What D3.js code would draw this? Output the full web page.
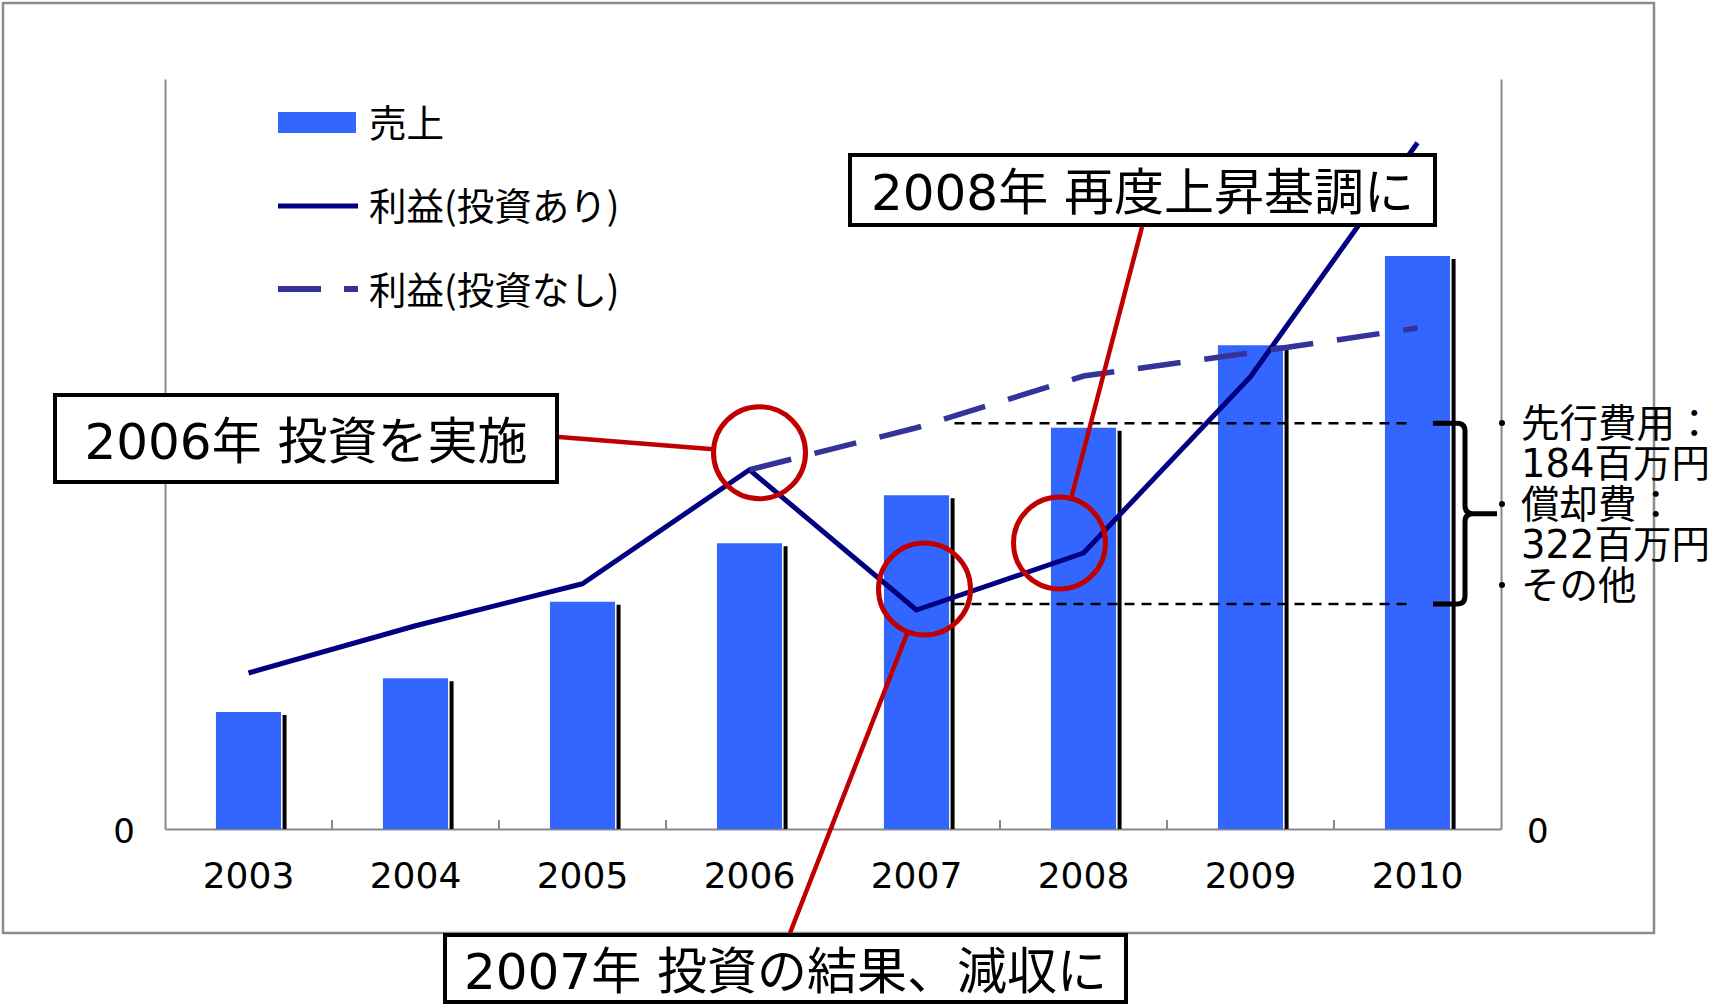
<!DOCTYPE html>
<html>
<head>
<meta charset="utf-8">
<script src="https://cdn.jsdelivr.net/npm/d3@7"></script>
<style>
  body { margin: 0; background: #fff; }
  svg { display: block; }
</style>
</head>
<body>
<svg width="1725" height="1006"></svg>
<script>
// values (no units on the axes, 0..100 scale)
const years = ["2003", "2004", "2005", "2006", "2007", "2008", "2009", "2010"]
const sales = [15.6, 20.1, 30.3, 38.1, 44.5, 53.5, 64.5, 76.4]
const profitWith = [20.8, 27.1, 32.7, 47.9, 29.2, 36.8, 60.3, 91.5]
const profitWithout = [null, null, null, 47.9, 53.5, 60.4, 63.5, 66.8]
const legendLabels = ["売上", "利益(投資あり)", "利益(投資なし)"]
const gapLevels = [54.1, 30.0]
const noteLines = ["先行費用：", "184百万円", "償却費：", "322百万円", "その他"]
const calloutTexts = ["2006年 投資を実施", "2008年 再度上昇基調に", "2007年 投資の結果、減収に"]

const svg = d3.select("svg")
const numFont = "'DejaVu Sans', 'Noto Sans CJK JP', sans-serif"
const jpFont = "'Noto Sans CJK JP', sans-serif"

const plotLeft = 165, plotRight = 1501, plotTop = 79, plotBottom = 829

const x = d3.scaleBand()
    .domain(years)
    .range([plotLeft, plotRight])
    .paddingInner(0.61)
    .paddingOuter(0.305)

const ySales = d3.scaleLinear().domain([0, 100]).range([plotBottom, plotTop])
const yProfit = d3.scaleLinear().domain([0, 100]).range([plotBottom, plotTop])
const cx = yr => x(yr) + x.bandwidth() / 2

// outer frame
svg.append("rect")
    .attr("x", 3).attr("y", 3)
    .attr("width", 1651).attr("height", 930)
    .attr("fill", "none")
    .attr("stroke", "#8c8c8c")
    .attr("stroke-width", 2.5)

// axes
const xAxis = svg.append("g")
    .attr("transform", "translate(0," + plotBottom + ")")
    .call(d3.axisBottom(x).tickSize(0).tickSizeOuter(0))
xAxis.select(".domain").attr("stroke", "#898989").attr("stroke-width", 2)
xAxis.selectAll("text")
    .attr("y", 59).attr("dy", 0)
    .attr("font-family", numFont).attr("font-size", 36).attr("fill", "#000")

// category boundary ticks pointing up
svg.append("g")
    .selectAll("line")
    .data(years.slice(1))
    .enter()
    .append("line")
    .attr("x1", d => x(d) - x.step() * x.paddingInner() / 2)
    .attr("x2", d => x(d) - x.step() * x.paddingInner() / 2)
    .attr("y1", plotBottom)
    .attr("y2", plotBottom - 9)
    .attr("stroke", "#898989")
    .attr("stroke-width", 2)

const yAxisL = svg.append("g")
    .attr("transform", "translate(" + plotLeft + ",0)")
    .call(d3.axisLeft(ySales).tickValues([0]).tickSize(0).tickSizeOuter(0).tickPadding(30))
const yAxisR = svg.append("g")
    .attr("transform", "translate(" + plotRight + ",0)")
    .call(d3.axisRight(yProfit).tickValues([0]).tickSize(0).tickSizeOuter(0).tickPadding(26))
;[yAxisL, yAxisR].forEach(a => {
    a.select(".domain").attr("stroke", "#898989").attr("stroke-width", 2)
    a.selectAll("text").attr("font-family", numFont).attr("font-size", 34).attr("fill", "#000").attr("dy", "0.4em")
})

// bars with a thin black shadow on the right
const bars = svg.append("g")
    .selectAll("g")
    .data(sales)
    .enter()
    .append("g")

bars.append("rect")
    .attr("x", (d, i) => x(years[i]) + x.bandwidth() + 1.5)
    .attr("y", d => ySales(d) + 3)
    .attr("width", 4)
    .attr("height", d => plotBottom - ySales(d) - 3)
    .attr("fill", "#000")

bars.append("rect")
    .attr("x", (d, i) => x(years[i]))
    .attr("y", d => ySales(d))
    .attr("width", x.bandwidth())
    .attr("height", d => plotBottom - ySales(d))
    .attr("fill", "#3366ff")

// profit lines
const line = d3.line()
    .defined(d => d != null)
    .x((d, i) => cx(years[i]))
    .y(d => yProfit(d))

svg.append("path")
    .attr("d", line(profitWith))
    .attr("fill", "none")
    .attr("stroke", "#000080")
    .attr("stroke-width", 5)
    .attr("stroke-linejoin", "round")

svg.append("path")
    .attr("d", line(profitWithout))
    .attr("fill", "none")
    .attr("stroke", "#333399")
    .attr("stroke-width", 5.5)
    .attr("stroke-dasharray", "43,24")

// legend
const legend = svg.append("g")
legend.append("rect")
    .attr("x", 278).attr("y", 112)
    .attr("width", 78).attr("height", 21)
    .attr("fill", "#3366ff")
legend.append("line")
    .attr("x1", 278).attr("x2", 358).attr("y1", 206).attr("y2", 206)
    .attr("stroke", "#000080").attr("stroke-width", 5)
legend.append("line")
    .attr("x1", 278).attr("x2", 358).attr("y1", 289).attr("y2", 289)
    .attr("stroke", "#333399").attr("stroke-width", 6)
    .attr("stroke-dasharray", "43,23")
legend.selectAll("text")
    .data(legendLabels)
    .enter()
    .append("text")
    .attr("x", 369)
    .attr("y", (d, i) => 123 + i * 83.5)
    .attr("dy", "0.36em")
    .attr("font-family", jpFont)
    .attr("font-size", 37.5)
    .text(d => d)

// gap markers between the two profit lines
svg.append("g")
    .selectAll("line")
    .data(gapLevels)
    .enter()
    .append("line")
    .attr("x1", cx("2007") + 38)
    .attr("x2", cx("2010") - 4)
    .attr("y1", d => yProfit(d))
    .attr("y2", d => yProfit(d))
    .attr("stroke", "#000")
    .attr("stroke-width", 2.5)
    .attr("stroke-dasharray", "10,7")

const bt = yProfit(gapLevels[0]), bb = yProfit(gapLevels[1]), bm = (bt + bb) / 2
const bx = 1465
svg.append("path")
    .attr("d", "M" + (bx - 32) + "," + bt + " L" + (bx - 8) + "," + bt +
        " Q" + bx + "," + bt + " " + bx + "," + (bt + 8) +
        " L" + bx + "," + (bm - 8) + " Q" + bx + "," + bm + " " + (bx + 8) + "," + bm +
        " L" + (bx + 32) + "," + bm +
        " M" + (bx + 8) + "," + bm + " Q" + bx + "," + bm + " " + bx + "," + (bm + 8) +
        " L" + bx + "," + (bb - 8) + " Q" + bx + "," + bb + " " + (bx - 8) + "," + bb +
        " L" + (bx - 32) + "," + bb)
    .attr("fill", "none")
    .attr("stroke", "#000")
    .attr("stroke-width", 5)

// notes at the right
const notes = svg.append("g")
notes.selectAll("text")
    .data(noteLines)
    .enter()
    .append("text")
    .attr("x", 1521)
    .attr("y", (d, i) => 423 + i * 40.5)
    .attr("dy", "0.36em")
    .attr("font-family", numFont)
    .attr("font-size", 38.5)
    .text(d => d)
notes.selectAll("circle")
    .data([0, 2, 4])
    .enter()
    .append("circle")
    .attr("cx", plotRight + 1)
    .attr("cy", i => 423 + i * 40.5)
    .attr("r", 3)
    .attr("fill", "#000")

// callouts: circle around a point, red leader line, boxed text
const callouts = [
    { year: "2006", v: profitWith[3], dx: 10, dy: -17, box: [53, 393, 506, 91], anchor: [559, 437] },
    { year: "2008", v: profitWith[5], dx: -24, dy: -10, box: [848, 153, 589, 74], anchor: [1142, 227] },
    { year: "2007", v: profitWith[4], dx: 8, dy: -21, box: [443, 933, 685, 71], anchor: [790, 933] }
]
const R = 46

callouts.forEach((c, i) => {
    const ccx = cx(c.year) + c.dx
    const ccy = yProfit(c.v) + c.dy
    const ax = c.anchor[0] - ccx, ay = c.anchor[1] - ccy
    const len = Math.sqrt(ax * ax + ay * ay)
    svg.append("line")
        .attr("x1", c.anchor[0]).attr("y1", c.anchor[1])
        .attr("x2", ccx + ax / len * R).attr("y2", ccy + ay / len * R)
        .attr("stroke", "#c00000")
        .attr("stroke-width", 4.5)
    svg.append("circle")
        .attr("cx", ccx).attr("cy", ccy).attr("r", R)
        .attr("fill", "none")
        .attr("stroke", "#c00000")
        .attr("stroke-width", 5)
})

callouts.forEach((c, i) => {
    const b = c.box
    svg.append("rect")
        .attr("x", b[0] + 2).attr("y", b[1] + 2)
        .attr("width", b[2] - 4).attr("height", b[3] - 4)
        .attr("fill", "#fff")
        .attr("stroke", "#000")
        .attr("stroke-width", 4)
    svg.append("text")
        .attr("x", b[0] + b[2] / 2)
        .attr("y", b[1] + b[3] / 2 + 2)
        .attr("dy", "0.36em")
        .attr("text-anchor", "middle")
        .attr("font-family", numFont)
        .attr("font-size", 50)
        .text(calloutTexts[i])
})
</script>
</body>
</html>
